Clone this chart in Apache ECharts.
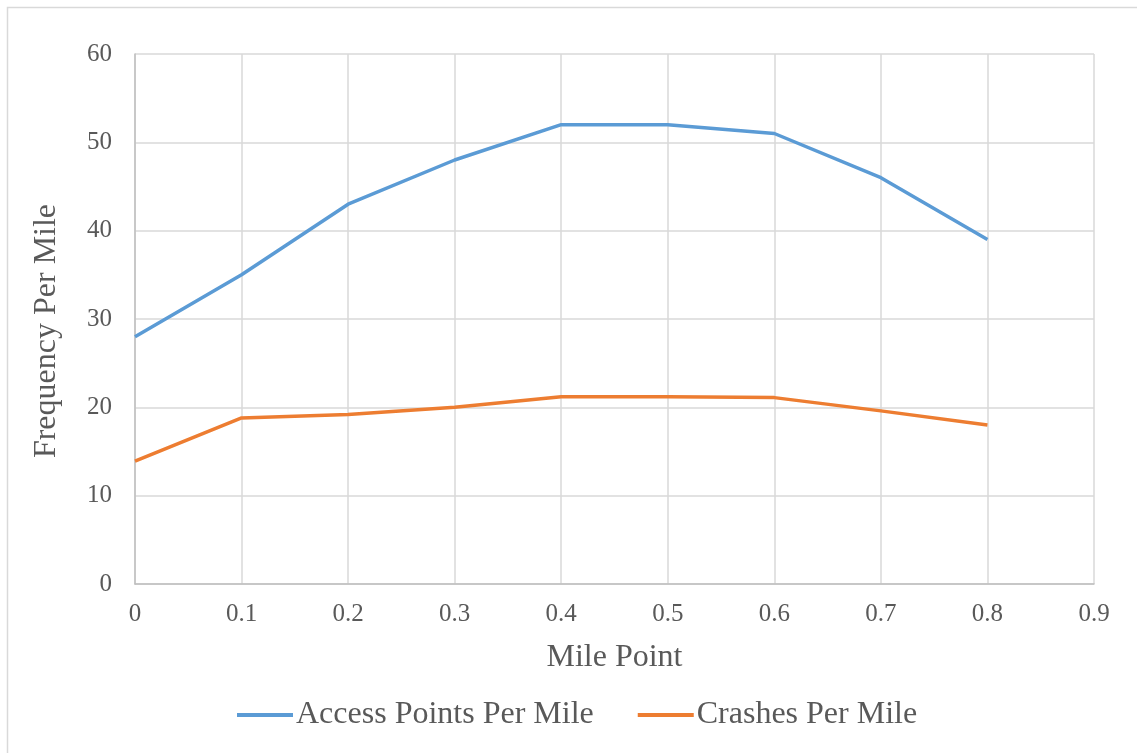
<!DOCTYPE html>
<html>
<head>
<meta charset="utf-8">
<script src="https://cdn.jsdelivr.net/npm/echarts@6/dist/echarts.min.js"></script>
<style>
html,body{margin:0;padding:0;background:#fff;}
#chart{width:1137px;height:753px;}
</style>
</head>
<body>
<div id="chart"></div>
<script>
const milePoints = [0, 0.1, 0.2, 0.3, 0.4, 0.5, 0.6, 0.7, 0.8];
const accessPoints = [28, 35, 43, 48, 52, 52, 51, 46, 39];
const crashes = [13.9, 18.8, 19.2, 20.0, 21.2, 21.2, 21.1, 19.6, 18.0];
const seriesNames = ['Access Points Per Mile', 'Crashes Per Mile'];
const xTitle = 'Mile Point';
const yTitle = 'Frequency Per Mile';

const font = '"Liberation Serif", "Times New Roman", serif';
const chart = echarts.init(document.getElementById('chart'));
chart.setOption({
  animation: false,
  backgroundColor: '#fff',
  graphic: [{
    type: 'rect', left: 5, top: 5, silent: true,
    shape: {width: 1140, height: 760},
    style: {fill: 'none', stroke: '#d9d9d9', lineWidth: 1.5}
  }],
  grid: {left: 135, right: 43, top: 54, bottom: 169},
  legend: {
    bottom: 17, left: 232,
    itemWidth: 56, itemHeight: 4, itemGap: 44,
    icon: 'rect',
    textStyle: {fontFamily: font, fontSize: 32, color: '#595959', padding: [0,0,0,-2]},
    data: seriesNames
  },
  xAxis: {
    type: 'value', min: 0, max: 0.9, interval: 0.1,
    name: xTitle, nameLocation: 'middle', nameGap: 58,
    nameTextStyle: {fontFamily: font, fontSize: 32, color: '#595959'},
    axisLine: {show: true, lineStyle: {color: '#bfbfbf', width: 1.5}},
    axisTick: {show: false},
    axisLabel: {fontFamily: font, fontSize: 25, color: '#595959', margin: 18,
      formatter: v => v === 0 ? '0' : v.toFixed(1)},
    splitLine: {show: true, lineStyle: {color: '#d9d9d9', width: 1.5}}
  },
  yAxis: {
    type: 'value', min: 0, max: 60, interval: 10,
    name: yTitle, nameLocation: 'middle', nameGap: 72, nameRotate: 90,
    nameTextStyle: {fontFamily: font, fontSize: 32, color: '#595959', padding: [0, 24, 0, 0]},
    axisLine: {show: true, lineStyle: {color: '#bfbfbf', width: 1.5}},
    axisTick: {show: false},
    axisLabel: {fontFamily: font, fontSize: 25, color: '#595959', margin: 23},
    splitLine: {show: true, lineStyle: {color: '#d9d9d9', width: 1.5}}
  },
  series: [
    {name: seriesNames[0], type: 'line', showSymbol: false, symbol: 'none',
     data: milePoints.map((x,i)=>[x, accessPoints[i]]),
     itemStyle: {color: '#5b9bd5'}, lineStyle: {color: '#5b9bd5', width: 3.5}},
    {name: seriesNames[1], type: 'line', showSymbol: false, symbol: 'none',
     data: milePoints.map((x,i)=>[x, crashes[i]]),
     itemStyle: {color: '#ed7d31'}, lineStyle: {color: '#ed7d31', width: 3.5}}
  ]
});
</script>
</body>
</html>
